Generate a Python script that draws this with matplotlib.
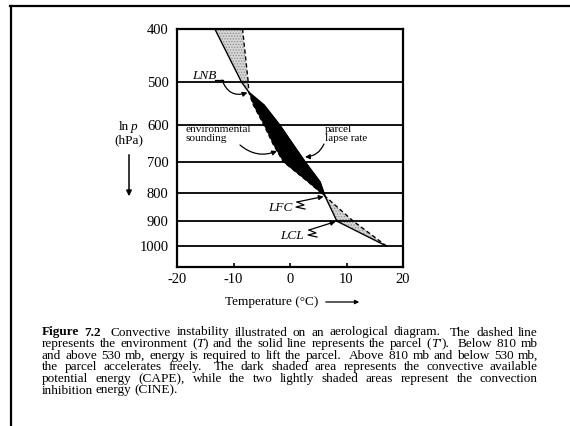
import matplotlib
matplotlib.use('Agg')
import matplotlib.pyplot as plt
from matplotlib.lines import Line2D
import numpy as np

plt.rcParams['font.family'] = ['Liberation Serif', 'DejaVu Serif']
plt.rcParams['mathtext.fontset'] = 'custom'
plt.rcParams['mathtext.rm'] = 'Liberation Serif'
plt.rcParams['mathtext.it'] = 'Liberation Serif:italic'
plt.rcParams['mathtext.bf'] = 'Liberation Serif:bold'
plt.rcParams['hatch.color'] = '#8a8a8a'
plt.rcParams['hatch.linewidth'] = 0.6

# ---------------- data ----------------
pressure = [1000, 900, 810, 762, 700, 650, 600, 551, 522, 500, 400]          # hPa
env_T    = [17.1, 11.2, 6.2, 3.2, -1.2, -3.0, -4.6, -6.5, -7.3, -7.4, -8.4]  # environment (dashed)
parcel_T = [17.1, 8.3, 6.2, 5.3, 2.65, 0.5, -1.8, -4.6, -7.3, -8.6, -13.3]   # parcel (solid)
levels   = [500, 600, 700, 800, 900, 1000]
ytick_vals = [400, 500, 600, 700, 800, 900, 1000]
xtick_vals = [-20, -10, 0, 10, 20]
LFC = (6.2, 810)
LCL = (8.3, 900)
LNB = (-7.3, 522)

# caption words; '*' marks italic segments, '**' bold
caption = [
    "**Figure **7.2 Convective instability illustrated on an aerological diagram. The dashed line",
    "represents the environment (*T*) and the solid line represents the parcel (*T'*). Below 810 mb",
    "and above 530 mb, energy is required to lift the parcel. Above 810 mb and below 530 mb,",
    "the parcel accelerates freely. The dark shaded area represents the convective available",
    "potential energy (CAPE), while the two lightly shaded areas represent the convection",
    "inhibition energy (CINE).",
]

W, H = 570, 426
fig = plt.figure(figsize=(W / 100, H / 100), dpi=100)


def fx(x):
    return x / W


def fy(y):
    return 1 - y / H


ax = fig.add_axes([fx(177), fy(267), (403 - 177) / W, (267 - 29) / H])

p = np.array(pressure)
te = np.array(env_T)
tp = np.array(parcel_T)
gray = '#d6d6d6'
ax.fill_betweenx(p[0:3], te[0:3], tp[0:3], facecolor=gray, edgecolor='none', hatch='......',
                 lw=0, zorder=1)
ax.fill_betweenx(p[8:], te[8:], tp[8:], facecolor=gray, edgecolor='none', hatch='......',
                 lw=0, zorder=1)
for lev in levels:
    ax.axhline(lev, color='black', lw=1.3, zorder=1.5)
ax.fill_betweenx(p[2:9], te[2:9], tp[2:9], facecolor='black', edgecolor='black', lw=0.5, zorder=2)
ax.plot(te, p, color='black', lw=1.0, ls=(0, (3, 2)), zorder=3)
ax.plot(tp, p, color='black', lw=1.0, zorder=3)

ax.set_yscale('log')
ax.set_ylim(1092, 400)
ax.set_xlim(-20, 20)
ax.set_yticks(ytick_vals)
ax.set_yticklabels([str(v) for v in ytick_vals])
ax.yaxis.set_minor_locator(matplotlib.ticker.NullLocator())
ax.set_xticks(xtick_vals)
ax.set_xticklabels([str(v) for v in xtick_vals])
ax.tick_params(axis='y', length=0, pad=6, labelsize=10.5)
ax.tick_params(axis='x', direction='in', length=3, width=1.2, pad=4, labelsize=10.5)
for s in ax.spines.values():
    s.set_linewidth(1.6)

# annotations
fig.text(fx(204), fy(76), 'LNB', fontsize=9.5, style='italic', ha='center', va='center')
ax.annotate('', xy=LNB, xycoords='data', xytext=(fx(222), fy(80)), textcoords='figure fraction',
            arrowprops=dict(arrowstyle='-|>', lw=0.9, color='black', mutation_scale=7,
                            connectionstyle='arc3,rad=0.5', shrinkA=0, shrinkB=1))
fig.add_artist(Line2D([fx(215), fx(223)], [fy(80), fy(80)], color='black', lw=0.9))

fig.text(fx(186), fy(134), 'environmental\nsounding', fontsize=8.2, ha='left', va='center',
         linespacing=0.95)
ax.annotate('', xy=(fx(277), fy(151)), xycoords='figure fraction', xytext=(fx(240), fy(145)),
            textcoords='figure fraction',
            arrowprops=dict(arrowstyle='-|>', lw=0.9, color='black', mutation_scale=7,
                            connectionstyle='arc3,rad=0.3', shrinkA=0, shrinkB=0))

fig.text(fx(325), fy(134), 'parcel\nlapse rate', fontsize=8.0, ha='left', va='center',
         linespacing=0.95)
ax.annotate('', xy=(fx(305), fy(157)), xycoords='figure fraction', xytext=(fx(324), fy(144)),
            textcoords='figure fraction',
            arrowprops=dict(arrowstyle='-|>', lw=0.9, color='black', mutation_scale=7,
                            connectionstyle='arc3,rad=-0.3', shrinkA=0, shrinkB=0))

fig.text(fx(280), fy(208), 'LFC', fontsize=9.5, style='italic', ha='center', va='center')
ax.annotate('', xy=LFC, xycoords='data', xytext=(fx(297), fy(202)), textcoords='figure fraction',
            arrowprops=dict(arrowstyle='-|>', lw=0.9, color='black', mutation_scale=7,
                            shrinkA=0, shrinkB=1))
fig.add_artist(Line2D([fx(297), fx(304), fx(296), fx(305)], [fy(202), fy(205), fy(207), fy(209)],
                      color='black', lw=0.9))

fig.text(fx(292), fy(236), 'LCL', fontsize=9.5, style='italic', ha='center', va='center')
ax.annotate('', xy=LCL, xycoords='data', xytext=(fx(309), fy(230)), textcoords='figure fraction',
            arrowprops=dict(arrowstyle='-|>', lw=0.9, color='black', mutation_scale=7,
                            shrinkA=0, shrinkB=1))
fig.add_artist(Line2D([fx(309), fx(316), fx(308), fx(317)], [fy(230), fy(233), fy(235), fy(237)],
                      color='black', lw=0.9))

# y label
fig.text(fx(124), fy(127), 'ln', fontsize=9.5, ha='center', va='center')
fig.text(fx(134), fy(127), 'p', fontsize=9.5, style='italic', ha='center', va='center')
fig.text(fx(129), fy(140), '(hPa)', fontsize=9.5, ha='center', va='center')
fig.add_artist(matplotlib.patches.FancyArrowPatch((fx(129), fy(152)), (fx(129), fy(199)),
                                                  transform=fig.transFigure, arrowstyle='-|>',
                                                  mutation_scale=8, lw=1.1, color='black'))
# x label
fig.text(fx(272), fy(302), 'Temperature (°C)', fontsize=9.5, ha='center', va='center')
fig.add_artist(matplotlib.patches.FancyArrowPatch((fx(323), fy(302)), (fx(362), fy(302)),
                                                  transform=fig.transFigure, arrowstyle='-|>',
                                                  mutation_scale=6, lw=0.9, color='black'))

# frame
fig.add_artist(Line2D([fx(10), fx(570)], [fy(6), fy(6)], color='black', lw=1.6))
fig.add_artist(Line2D([fx(11), fx(11)], [fy(6), fy(426)], color='black', lw=1.6))


# caption (justified)
def parse_word(w):
    """split a word into (text, weight, style) segments using * / ** markers"""
    segs = []
    if w.startswith('**'):
        segs.append((w.strip('*'), 'bold', 'normal'))
        return segs
    parts = w.split('*')
    for j, part in enumerate(parts):
        if part:
            segs.append((part, 'normal', 'italic' if j % 2 == 1 else 'normal'))
    return segs


renderer = fig.canvas.get_renderer()
x0, x1 = 42, 538
base0, dy = 335.5, 11.6

fs0 = 10.0
probe_widths = []
for line in caption:
    t = fig.text(0, 0, line.replace('*', ''), fontsize=fs0)
    probe_widths.append(t.get_window_extent(renderer).width)
    t.remove()
fs = fs0 * (x1 - x0) * 0.965 / max(probe_widths)

for i, line in enumerate(caption):
    words = line.replace('** ', '**_').split(' ')
    words = [w.replace('_', ' ') for w in words]
    # bold "Figure 7.2" as one word
    groups = []
    for w in words:
        segs = parse_word(w)
        items = []
        for s, wt, st in segs:
            t = fig.text(0, 0, s, fontsize=fs, fontweight=wt, style=st, ha='left', va='baseline')
            items.append((t, t.get_window_extent(renderer).width))
        groups.append((w, items))
    widths = [sum(wd for _, wd in items) for _, items in groups]
    yb = base0 + i * dy
    justify = i < len(caption) - 1
    weights = []
    for w, _ in groups[:-1]:
        weights.append(1.8 if w.endswith('.') or w.endswith('7.2') else 1.0)
    if justify:
        space = (x1 - x0 - sum(widths)) / sum(weights)
    else:
        space = fs * 0.2 * 100 / 72
    x = x0
    for k, (w, items) in enumerate(groups):
        for t, wd in items:
            t.set_position((fx(x), fy(yb)))
            x += wd
        if k < len(weights):
            x += space * weights[k]

fig.savefig('out.png', dpi=100)
